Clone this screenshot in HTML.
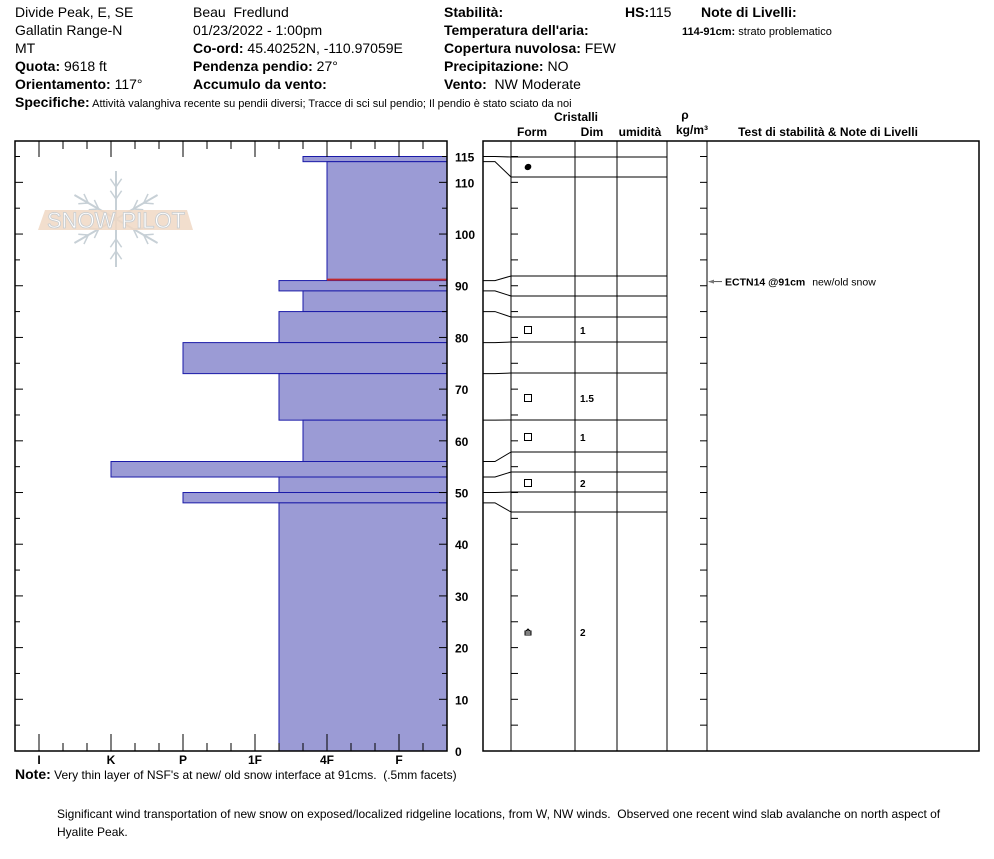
<!DOCTYPE html>
<html><head><meta charset="utf-8">
<style>
html,body{margin:0;padding:0;background:#fff;}
body{width:994px;height:859px;position:relative;overflow:hidden;font-family:"Liberation Sans",Arial,sans-serif;color:#000;}
.t{position:absolute;font-size:14px;white-space:nowrap;line-height:16px;}
b{font-weight:bold;}
svg{position:absolute;left:0;top:0;}
</style></head><body>
<div class="t" style="left:15px;top:4px">Divide Peak, E, SE</div>
<div class="t" style="left:15px;top:22px">Gallatin Range-N</div>
<div class="t" style="left:15px;top:40px">MT</div>
<div class="t" style="left:15px;top:58px"><b>Quota:</b> 9618 ft</div>
<div class="t" style="left:15px;top:76px"><b>Orientamento:</b> 117°</div>
<div class="t" style="left:193px;top:4px">Beau&nbsp; Fredlund</div>
<div class="t" style="left:193px;top:22px">01/23/2022 - 1:00pm</div>
<div class="t" style="left:193px;top:40px"><b>Co-ord:</b> 45.40252N, -110.97059E</div>
<div class="t" style="left:193px;top:58px"><b>Pendenza pendio:</b> 27°</div>
<div class="t" style="left:193px;top:76px"><b>Accumulo da vento:</b></div>
<div class="t" style="left:444px;top:4px"><b>Stabilità:</b></div>
<div class="t" style="left:444px;top:22px"><b>Temperatura dell'aria:</b></div>
<div class="t" style="left:444px;top:40px"><b>Copertura nuvolosa:</b> FEW</div>
<div class="t" style="left:444px;top:58px"><b>Precipitazione:</b> NO</div>
<div class="t" style="left:444px;top:76px"><b>Vento:</b>&nbsp; NW Moderate</div>
<div class="t" style="left:625px;top:4px"><b>HS:</b>115</div>
<div class="t" style="left:701px;top:4px"><b>Note di Livelli:</b></div>
<div class="t" style="left:682px;top:24px;font-size:11px"><b>114-91cm:</b> strato problematico</div>
<div class="t" style="left:15px;top:94px;font-size:11px"><b style="font-size:14px">Specifiche:</b> Attività valanghiva recente su pendii diversi; Tracce di sci sul pendio; Il pendio è stato sciato da noi</div>
<div class="t" style="left:15px;top:766px;font-size:12px"><b style="font-size:14px">Note:</b> Very thin layer of NSF's at new/ old snow interface at 91cms.&nbsp; (.5mm facets)</div>
<div class="t" style="left:57px;top:805px;font-size:12px;line-height:18px;white-space:normal;width:920px">Significant wind transportation of new snow on exposed/localized ridgeline locations, from W, NW winds.&nbsp; Observed one recent wind slab avalanche on north aspect of Hyalite Peak.</div>

<svg id="chart" width="994" height="859"></svg>
<script>
// hardness profile layers: top, bottom (cm), hardness
const layerTops=[115,114,91,89,85,79,73,64,56,53,50,48];
const layerBottoms=[114,91,89,85,79,73,64,56,53,50,48,0];
const layerHardness=["4F-","4F","1F+","4F-","1F+","P","1F+","4F-","K","1F+","P","1F+"];
const hardnessLabels=["I","K","P","1F","4F","F"];
const depthTicks=[0,10,20,30,40,50,60,70,80,90,100,110];
// right-side table rows: displayed boundaries
const rowBoundaryDepths=[115,114,91,89,85,79,73,64,56,53,50,48];
const rowDisplayY=[157,177,276,296,317,342,373,420,452,472,492,512];
const grainRows=[{d:114.5,y:167,form:"PP",dim:""},{d:82,y:330,form:"FC",dim:"1"},{d:68.5,y:398,form:"FC",dim:"1.5"},{d:60,y:437,form:"FC",dim:"1"},{d:51.5,y:483,form:"FC",dim:"2"},{d:24,y:632,form:"DH",dim:"2"}];
const testDepths=[91];const testLabels=["ECTN14 @91cm"];const testNotes=["new/old snow"];

const NS="http://www.w3.org/2000/svg";
const svg=document.getElementById('chart');
function el(tag,attrs,parent){const e=document.createElementNS(NS,tag);for(const k in attrs)e.setAttribute(k,attrs[k]);(parent||svg).appendChild(e);return e;}
const y0=751,pxcm=(751-156.5)/115;
const yS=d=>y0-d*pxcm;
function xH(h){let base=h.replace(/[+-]$/,'');let i=hardnessLabels.indexOf(base);let off=h.endsWith('+')?1/3:h.endsWith('-')?-1/3:0;return 39+72*(i+off);}

// bars
layerTops.forEach((t,i)=>{
  const r=el('rect',{x:xH(layerHardness[i]),y:yS(t),width:447-xH(layerHardness[i]),height:yS(layerBottoms[i])-yS(t),fill:'#9b9bd5',stroke:'#1a1aa8','stroke-width':1});
  
  
});
const red=el('line',{x1:xH("4F"),x2:447,y1:yS(91)-1,y2:yS(91)-1,stroke:'#c0282c','stroke-width':2});



// logo
const logo=el('g',{});


const cx=116,cy=219;
for(let a=0;a<6;a++){const ang=Math.PI/2+a*Math.PI/3;const c=Math.cos(ang),s=Math.sin(ang);
  el('line',{x1:cx,y1:cy,x2:cx+48*c,y2:cy+48*s,stroke:'#c7d0d6','stroke-width':2},logo);
  [20,32].forEach(r=>{const bx=cx+r*c,by=cy+r*s;[0.6,-0.6].forEach(o=>{const a2=ang+o;
    el('line',{x1:bx,y1:by,x2:bx+10*Math.cos(a2),y2:by+10*Math.sin(a2),stroke:'#c7d0d6','stroke-width':1.5},logo);});});}
el('polygon',{points:'38,230 193,230 187,210 45,210',fill:'#f0d8c4',opacity:0.85},logo);
const lt=el('text',{x:116,y:228,'text-anchor':'middle','font-size':'22','font-family':'Liberation Sans, sans-serif',fill:'#fff',stroke:'#c7ccd0','stroke-width':0.8},logo);lt.textContent='SNOW PILOT';

// frame left
el('rect',{x:15,y:141,width:432,height:610,fill:'none',stroke:'#000','stroke-width':1.5});
for(let i=0;i<=17;i++){const x=15+24*i;if(x<=15||x>=447)continue;const major=((x-39)%72===0);
  el('line',{x1:x,x2:x,y1:141,y2:141+(major?16:8),stroke:'#000'});
  el('line',{x1:x,x2:x,y1:751,y2:751-(major?17:8),stroke:'#000'});}
hardnessLabels.forEach((h,i)=>{const t=el('text',{x:39+72*i,y:764,'text-anchor':'middle','font-size':'12','font-weight':'bold'});t.textContent=h;
 
 });
for(let d=5;d<=115;d+=5){const y=yS(d);const L=d%10===0?8:5;
  el('line',{x1:15,x2:15+L,y1:y,y2:y,stroke:'#000'});el('line',{x1:447,x2:447-L,y1:y,y2:y,stroke:'#000'});
  el('line',{x1:511,x2:518,y1:y,y2:y,stroke:'#000'});el('line',{x1:707,x2:700,y1:y,y2:y,stroke:'#000'});}
depthTicks.concat([115]).forEach(d=>{const t=el('text',{x:455,y:yS(d)+5,'font-size':'12','font-weight':'bold'});t.textContent=d;
 
 });

// right table
el('rect',{x:483,y:141,width:496,height:610,fill:'none',stroke:'#000','stroke-width':1.5});
[511,575,617,667,707].forEach(x=>el('line',{x1:x,x2:x,y1:141,y2:751,stroke:'#000'}));
rowBoundaryDepths.forEach((d,i)=>{const yd=rowDisplayY[i];
  el('line',{x1:511,x2:667,y1:yd,y2:yd,stroke:'#000'});
  el('polyline',{points:`483,${yS(d)} 495,${yS(d)} 511,${yd}`,fill:'none',stroke:'#000'});});
grainRows.forEach(g=>{
  let m;
  if(g.form==="PP"){m=el('ellipse',{cx:528,cy:g.y,rx:3.5,ry:3,fill:'#000',transform:`rotate(-35 528 ${g.y})`});}
  else if(g.form==="FC"){m=el('rect',{x:524.5,y:g.y-3.5,width:7,height:7,fill:'none',stroke:'#000'});}
  else {m=el('path',{d:`M525,${g.y+3} L525,${g.y-1} L531,${g.y-1} L531,${g.y+3} Z M525,${g.y+1} L531,${g.y+1} M526,${g.y-1} L528,${g.y-3} L530,${g.y-1}`,fill:'#fff',stroke:'#000'});}
  
  
  if(g.dim){const t=el('text',{x:580,y:g.y+4,'font-size':'10','font-weight':'bold'});t.textContent=g.dim;
   
   }
});
testDepths.forEach((d,i)=>{const y=yS(d)+1;
  el('line',{x1:709,x2:722,y1:y,y2:y,stroke:'#555'});el('path',{d:`M708,${y} L714,${y-2} L714,${y+2} Z`,fill:'#777'});
  const t=el('text',{x:725,y:y+4,'font-size':'10.5'});
  
  const a=el('tspan',{'font-weight':'bold'},t);a.textContent=testLabels[i]+'  ';const b=el('tspan',{dx:4},t);b.textContent=testNotes[i];});
// headers
[["Cristalli",576,121],["Form",532,136],["Dim",592,136],["umidità",640,136],["ρ",685,119],["kg/m³",692,134],["Test di stabilità & Note di Livelli",828,136]].forEach(h=>{
  const t=el('text',{x:h[1],y:h[2],'text-anchor':'middle','font-size':'12','font-weight':'bold'});t.textContent=h[0];
  
  });
</script>
</body></html>
